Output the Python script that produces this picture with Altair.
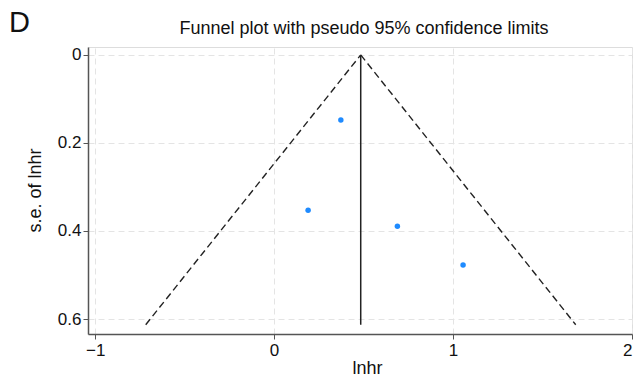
import altair as alt
import pandas as pd

# Study estimates
lnhr = [0.373, 0.190, 0.689, 1.056]
se = [0.148, 0.353, 0.389, 0.477]

# Pooled estimate and funnel extent
pooled = 0.484
se_max = 0.613
z = 1.96

pts = pd.DataFrame({"lnhr": lnhr, "se": se})
vline = pd.DataFrame({"lnhr": [pooled, pooled], "se": [0.0, se_max]})
left = pd.DataFrame({"lnhr": [pooled, pooled - z * se_max], "se": [0.0, se_max]})
right = pd.DataFrame({"lnhr": [pooled, pooled + z * se_max], "se": [0.0, se_max]})

FONT = "Liberation Sans"
TXT = "#111111"

xsc = alt.Scale(domain=[-1.04, 2.0], nice=False, zero=False)
ysc = alt.Scale(domain=[-0.018, 0.634], nice=False, zero=False, reverse=True)

xax = alt.Axis(values=[-1, 0, 1, 2], format="~g", title="lnhr", grid=True, gridDash=[6, 4],
               gridColor="#e4e4e4", domainColor="#555555", domainWidth=1.5,
               tickColor="#555555", tickSize=5, labelPadding=3, labelFontSize=17,
               titleFontSize=18, titleFontWeight="normal", titleBaseline="alphabetic",
               titleX=279, titleY=39,
               labelFont=FONT, titleFont=FONT, labelColor=TXT, titleColor=TXT)
yax = alt.Axis(values=[0, 0.2, 0.4, 0.6], format="~g", title="s.e. of lnhr", grid=True,
               gridDash=[6, 4], gridColor="#e4e4e4", domainColor="#555555", domainWidth=1.5,
               tickColor="#555555", tickSize=5, labelPadding=2, labelFontSize=17,
               titleFontSize=18, titleFontWeight="normal", titleBaseline="alphabetic",
               titleX=-48, titleY=143, titleAngle=270,
               labelFont=FONT, titleFont=FONT, labelColor=TXT, titleColor=TXT)

base_x = alt.X("lnhr:Q", scale=xsc, axis=xax)
base_y = alt.Y("se:Q", scale=ysc, axis=yax)

dl = alt.Chart(left).mark_line(color="#222222", strokeDash=[7, 4], strokeWidth=1.4).encode(x=base_x, y=base_y)
dr = alt.Chart(right).mark_line(color="#222222", strokeDash=[7, 4], strokeWidth=1.4).encode(x="lnhr:Q", y="se:Q")
vl = alt.Chart(vline).mark_line(color="#222222", strokeWidth=1.5).encode(x="lnhr:Q", y="se:Q")
pt = alt.Chart(pts).mark_circle(color="#1f8bff", size=30, opacity=1).encode(x="lnhr:Q", y="se:Q")

panel = alt.Chart(pd.DataFrame({"t": ["D"]})).mark_text(
    font=FONT, fontSize=29, align="left", baseline="alphabetic", color=TXT
).encode(text="t:N", x=alt.value(-79), y=alt.value(-15))

title = alt.Chart(pd.DataFrame({"t": ["Funnel plot with pseudo 95% confidence limits"]})).mark_text(
    font=FONT, fontSize=18, align="center", baseline="alphabetic", color=TXT
).encode(text="t:N", x=alt.value(276), y=alt.value(-13))

chart = alt.layer(dl, dr, vl, pt, panel, title).properties(
    width=544, height=287,
    autosize=alt.AutoSizeParams(type="none"),
    padding={"left": 88, "top": 47, "right": 10, "bottom": 43},
).configure_view(stroke=None).configure(background="white")

chart.save("out.html", embed_options={"renderer": "svg", "actions": False})
